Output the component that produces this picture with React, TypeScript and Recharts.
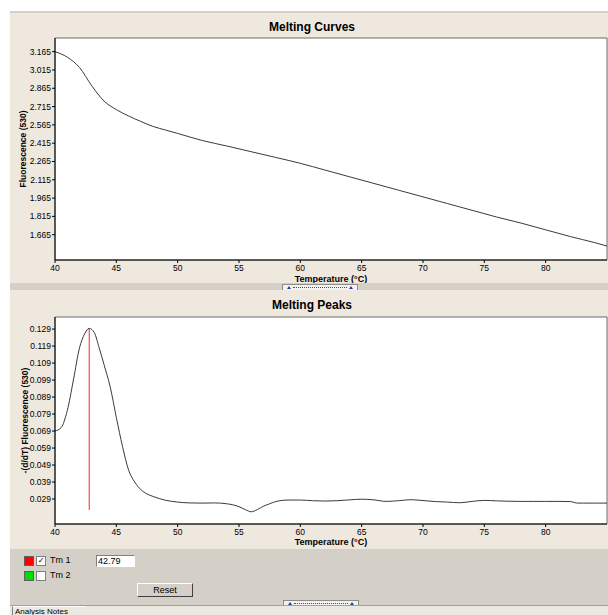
import React from "react"
import {
  LineChart,
  Line,
  XAxis,
  YAxis,
  CartesianGrid,
  ReferenceArea,
  ReferenceLine,
} from "recharts"

// Melting curve: temperature (°C) vs fluorescence (530)
const meltTemps = [40, 41, 42, 43, 44, 45, 46, 47, 48, 49, 50, 52, 54, 56, 58, 60, 62, 64, 66, 68, 70, 72, 74, 76, 78, 80, 82, 84, 85]
const meltFluor = [
  3.165, 3.12, 3.035, 2.885, 2.76, 2.69, 2.638, 2.593, 2.552, 2.523, 2.495, 2.437, 2.392, 2.345, 2.298,
  2.25, 2.195, 2.14, 2.085, 2.03, 1.975, 1.92, 1.865, 1.81, 1.76, 1.705, 1.65, 1.6, 1.572,
]

// Melting peaks: -(d/dT) fluorescence
const peakTemps = [
  40, 40.5, 41, 41.5, 42, 42.4, 42.79, 43.2, 43.6, 44, 44.5, 45, 45.5, 46, 46.5, 47, 47.5, 48, 49, 50,
  51, 52, 53, 54, 55, 55.5, 56, 56.5, 57, 57.5, 58, 59, 60, 61, 62, 63, 64, 65, 66, 67, 68, 69, 70,
  71, 72, 73, 74, 75, 76, 77, 78, 79, 80, 81, 82, 82.6, 83, 84, 85,
]
const peakValues = [
  0.069, 0.071, 0.081, 0.099, 0.118, 0.126, 0.1294, 0.127, 0.118, 0.108, 0.095, 0.077, 0.06, 0.046,
  0.039, 0.0345, 0.032, 0.0305, 0.0283, 0.0272, 0.0267, 0.0266, 0.0267, 0.0262, 0.0245, 0.0228,
  0.0215, 0.0228, 0.0248, 0.0262, 0.0275, 0.0284, 0.0284, 0.028, 0.0278, 0.028, 0.0285, 0.0289,
  0.0285, 0.0276, 0.028, 0.0286, 0.0281, 0.0275, 0.0272, 0.0268, 0.0276, 0.0282, 0.0279, 0.0277,
  0.0276, 0.0276, 0.0276, 0.0276, 0.0275, 0.0266, 0.0266, 0.0266, 0.0266,
]

const xTicks = [40, 45, 50, 55, 60, 65, 70, 75, 80]
const meltTicks = [1.665, 1.815, 1.965, 2.115, 2.265, 2.415, 2.565, 2.715, 2.865, 3.015, 3.165]
const peakTicks = [0.029, 0.039, 0.049, 0.059, 0.069, 0.079, 0.089, 0.099, 0.109, 0.119, 0.129]

const tm1 = 42.79
const tm1Bottom = 0.0226
const tm1Top = 0.1294

const meltDomain: [number, number] = [1.4576, 3.277]
const peakDomain: [number, number] = [0.0143, 0.1361]

const FONT = "'Liberation Sans', Arial, sans-serif"
const BEIGE = "#EFE8DF"
const GRAY = "#D4D0C8"

const meltData = meltTemps.map((t, i) => ({ t, f: meltFluor[i] }))
const peakData = peakTemps.map((t, i) => ({ t, d: peakValues[i] }))

const yLabel = (text: string, dx: number) => (props: any) => {
  const vb = props.viewBox || { x: 0, y: 0, width: 0, height: 0 }
  const cx = vb.x + dx
  const cy = vb.y + vb.height / 2
  return (
    <text
      x={cx}
      y={cy}
      transform={`rotate(-90 ${cx} ${cy})`}
      textAnchor="middle"
      dominantBaseline="central"
      fontSize={8.5}
      fontWeight="bold"
      fontFamily={FONT}
      fill="#000"
    >
      {text}
    </text>
  )
}

const tickStyle = { fontSize: 8.5, fill: "#000", fontFamily: FONT }

function ScrollThumb({ left, top }: { left: number; top: number }) {
  return (
    <div
      style={{
        position: "absolute",
        left,
        top,
        width: 74,
        height: 5,
        background: "#F4F2EE",
        border: "1px solid #8C8C8C",
      }}
    >
      <div style={{ position: "absolute", left: 10, right: 10, top: 2, borderTop: "1px dotted #3050A0" }} />
      <div style={{ position: "absolute", left: 4, top: 1, width: 0, height: 0, borderLeft: "2px solid transparent", borderRight: "2px solid transparent", borderBottom: "3px solid #2040A0" }} />
      <div style={{ position: "absolute", right: 4, top: 1, width: 0, height: 0, borderLeft: "2px solid transparent", borderRight: "2px solid transparent", borderBottom: "3px solid #2040A0" }} />
    </div>
  )
}

function Title({ top, text }: { top: number; text: string }) {
  return (
    <div
      style={{
        position: "absolute",
        left: 13,
        top,
        width: 598,
        textAlign: "center",
        fontSize: 12,
        fontWeight: "bold",
        fontFamily: FONT,
        lineHeight: "14px",
      }}
    >
      {text}
    </div>
  )
}

function Swatch({ top, color, checked, label }: { top: number; color: string; checked: boolean; label: string }) {
  return (
    <>
      <div style={{ position: "absolute", left: 24, top, width: 8, height: 8, background: color, border: "1px solid #606060" }} />
      <div
        style={{
          position: "absolute",
          left: 36,
          top,
          width: 8,
          height: 8,
          background: "#fff",
          border: "1px solid #808080",
          fontSize: 8,
          lineHeight: "8px",
          textAlign: "center",
          fontFamily: "'DejaVu Sans', sans-serif",
        }}
      >
        {checked ? "✓" : ""}
      </div>
      <div style={{ position: "absolute", left: 50, top: top - 1, fontSize: 9, fontFamily: FONT, lineHeight: "11px" }}>{label}</div>
    </>
  )
}

export default function App() {
  return (
    <div
      style={{
        position: "fixed",
        left: 0,
        top: 0,
        width: 608,
        height: 615,
        background: "#fff",
        overflow: "hidden",
        fontFamily: FONT,
      }}
    >
      {/* top panel */}
      <div style={{ position: "absolute", left: 10, top: 11, width: 598, height: 2, background: GRAY }} />
      <div style={{ position: "absolute", left: 10, top: 13, width: 598, height: 270, background: BEIGE }}>
        <LineChart width={598} height={270} data={meltData} margin={{ top: 25, right: 1, bottom: 0, left: 0 }}>
          <CartesianGrid horizontal={false} vertical={false} fill="#fff" />
          <ReferenceArea x1={40} x2={85} y1={meltDomain[0]} y2={meltDomain[1]} fill="none" stroke="#6a6a6a" ifOverflow="visible" />
          <XAxis
            type="number"
            dataKey="t"
            domain={[40, 85]}
            ticks={xTicks}
            interval={0}
            height={23}
            tickSize={3}
            tickMargin={2}
            tick={tickStyle}
            axisLine={{ stroke: "#000" }}
            tickLine={{ stroke: "#000" }}
            label={{ value: "Temperature (°C)", position: "insideBottom", offset: 1.5, fontSize: 9, fontWeight: "bold", fill: "#000", fontFamily: FONT }}
          />
          <YAxis
            type="number"
            domain={meltDomain}
            ticks={meltTicks}
            interval={0}
            width={45}
            tickSize={3}
            tickMargin={1}
            tick={tickStyle}
            tickFormatter={(v: number) => v.toFixed(3)}
            axisLine={{ stroke: "#000" }}
            tickLine={{ stroke: "#000" }}
            allowDataOverflow
            label={{ content: yLabel("Fluorescence (530)", 13) }}
          />
          <Line type="monotone" dataKey="f" stroke="#3a3a3a" strokeWidth={1} dot={false} isAnimationActive={false} />
        </LineChart>
      </div>
      <Title top={20} text="Melting Curves" />

      {/* splitter */}
      <div style={{ position: "absolute", left: 10, top: 283, width: 598, height: 7, background: GRAY }} />
      <ScrollThumb left={282} top={284} />

      {/* bottom panel */}
      <div style={{ position: "absolute", left: 10, top: 290, width: 598, height: 259, background: BEIGE }}>
        <LineChart width={598} height={259} data={peakData} margin={{ top: 27, right: 1, bottom: 0, left: 0 }}>
          <CartesianGrid horizontal={false} vertical={false} fill="#fff" />
          <ReferenceArea x1={40} x2={85} y1={peakDomain[0]} y2={peakDomain[1]} fill="none" stroke="#6a6a6a" ifOverflow="visible" />
          <XAxis
            type="number"
            dataKey="t"
            domain={[40, 85]}
            ticks={xTicks}
            interval={0}
            height={25}
            tickSize={3}
            tickMargin={2}
            tick={tickStyle}
            axisLine={{ stroke: "#000" }}
            tickLine={{ stroke: "#000" }}
            label={{ value: "Temperature (°C)", position: "insideBottom", offset: 4.5, fontSize: 9, fontWeight: "bold", fill: "#000", fontFamily: FONT }}
          />
          <YAxis
            type="number"
            domain={peakDomain}
            ticks={peakTicks}
            interval={0}
            width={45}
            tickSize={3}
            tickMargin={1}
            tick={tickStyle}
            tickFormatter={(v: number) => v.toFixed(3)}
            axisLine={{ stroke: "#000" }}
            tickLine={{ stroke: "#000" }}
            allowDataOverflow
            label={{ content: yLabel("-(d/dT) Fluorescence (530)", 15) }}
          />
          <ReferenceLine
            segment={[
              { x: tm1, y: tm1Bottom },
              { x: tm1, y: tm1Top },
            ]}
            stroke="#ff2020"
            strokeWidth={1}
            ifOverflow="visible"
          />
          <Line type="monotone" dataKey="d" stroke="#3a3a3a" strokeWidth={1} dot={false} isAnimationActive={false} />
        </LineChart>
      </div>
      <Title top={298} text="Melting Peaks" />

      {/* control area */}
      <div style={{ position: "absolute", left: 10, top: 549, width: 598, height: 56, background: GRAY }} />
      <Swatch top={556} color="#ff0000" checked label="Tm 1" />
      <Swatch top={571} color="#00e000" checked={false} label="Tm 2" />
      <div
        style={{
          position: "absolute",
          left: 96,
          top: 555,
          width: 36,
          height: 10,
          background: "#fff",
          borderTop: "1px solid #808080",
          borderLeft: "1px solid #808080",
          borderRight: "1px solid #fff",
          borderBottom: "1px solid #fff",
          fontSize: 9,
          lineHeight: "10px",
          paddingLeft: 1,
        }}
      >
        {tm1.toFixed(2)}
      </div>
      <div
        style={{
          position: "absolute",
          left: 137,
          top: 583,
          width: 54,
          height: 12,
          background: GRAY,
          borderTop: "1px solid #fff",
          borderLeft: "1px solid #fff",
          borderRight: "1px solid #404040",
          borderBottom: "1px solid #404040",
          fontSize: 9,
          lineHeight: "12px",
          textAlign: "center",
        }}
      >
        Reset
      </div>
      <ScrollThumb left={283} top={600} />
      <div style={{ position: "absolute", left: 10, top: 605, width: 598, height: 1, background: "#A0A0A0" }} />
      <div style={{ position: "absolute", left: 10, top: 606, width: 598, height: 9, background: "#ECE9E2" }} />
      <div
        style={{
          position: "absolute",
          left: 12,
          top: 606,
          width: 70,
          height: 9,
          borderLeft: "1px solid #808080",
          borderTop: "1px solid #fff",
          fontSize: 8,
          lineHeight: "9px",
          paddingLeft: 2,
        }}
      >
        Analysis Notes
      </div>
    </div>
  )
}
